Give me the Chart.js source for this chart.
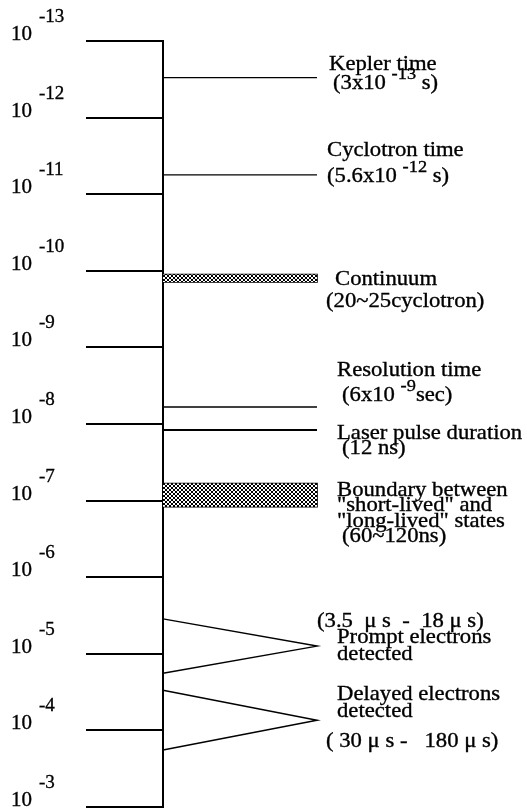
<!DOCTYPE html>
<html>
<head>
<meta charset="utf-8">
<script src="https://cdn.jsdelivr.net/npm/chart.js@4/dist/chart.umd.min.js"></script>
<style>
  html, body { margin: 0; padding: 0; background: #fff; }
  canvas { display: block; }
</style>
</head>
<body>
<canvas id="timescale" width="527" height="810"></canvas>
<script>
// Decade ticks of the time axis (seconds) and the exponents printed beside them
const tickValues = [1e-13, 1e-12, 1e-11, 1e-10, 1e-9, 1e-8, 1e-7, 1e-6, 1e-5, 1e-4, 1e-3];
const tickExponents = ['-13', '-12', '-11', '-10', '-9', '-8', '-7', '-6', '-5', '-4', '-3'];

// Characteristic single times (s)
const eventNames = ['Kepler time', 'Cyclotron time', 'Resolution time', 'Laser pulse duration'];
const eventTimes = [3e-13, 5.6e-12, 6e-9, 12e-9];

// Continuum onset, in cyclotron periods
const continuumCycles = [20, 25];
// Boundary between short-lived and long-lived states (s)
const boundaryTimes = [60e-9, 120e-9];

// Electron detection windows (s)
const promptWindow = [3.5e-6, 18e-6];
const delayedWindow = [30e-6, 180e-6];

// ---- styling ----
const INK = '#000';
const eventLineWidths = [1.3, 1.3, 1.3, 2];
const SERIF = '"Liberation Serif", "Times New Roman", serif';

function crossHatch() {
  const size = 4;
  const c = document.createElement('canvas');
  c.width = size; c.height = size;
  const g = c.getContext('2d');
  g.fillStyle = '#fff';
  g.fillRect(0, 0, size, size);
  g.strokeStyle = INK;
  g.lineWidth = 1;
  g.beginPath();
  g.moveTo(-1, -1); g.lineTo(size + 1, size + 1);
  g.moveTo(size + 1, -1); g.lineTo(-1, size + 1);
  g.stroke();
  return g.createPattern(c, 'repeat');
}
const hatch = crossHatch();

const datasets = [];

eventTimes.forEach((t, i) => {
  datasets.push({
    label: eventNames[i],
    data: [{ x: 0, y: t }, { x: 1, y: t }],
    borderColor: INK,
    borderWidth: eventLineWidths[i],
    pointRadius: 0,
    fill: false,
    clip: false
  });
});

function addBand(name, range) {
  const [a, b] = range;
  datasets.push({
    label: name + ' start',
    data: [{ x: 0, y: a }, { x: 1, y: a }],
    borderColor: 'rgba(0,0,0,0)',
    pointRadius: 0,
    fill: false
  });
  datasets.push({
    label: name,
    data: [{ x: 0, y: b }, { x: 1, y: b }],
    borderColor: 'rgba(0,0,0,0)',
    backgroundColor: hatch,
    pointRadius: 0,
    fill: '-1'
  });
  datasets.push({
    label: name + ' outline',
    data: [{ x: 0, y: a }, { x: 1, y: a }, { x: 1, y: b }, { x: 0, y: b }],
    borderColor: INK,
    borderWidth: 1.6,
    pointRadius: 0,
    fill: false,
    clip: false
  });
}

function addWedge(name, range) {
  const [a, b] = range;
  const apex = Math.sqrt(a * b);
  datasets.push({
    label: name,
    data: [{ x: 0, y: a }, { x: 1, y: apex }, { x: 0, y: b }],
    borderColor: INK,
    borderWidth: 1.5,
    pointRadius: 0,
    fill: false,
    clip: false
  });
}

const cyclotronPeriod = eventTimes[1];
addBand('Continuum', continuumCycles.map(n => n * cyclotronPeriod));
addBand('Short/long-lived boundary', boundaryTimes);
addWedge('Prompt electrons', promptWindow);
addWedge('Delayed electrons', delayedWindow);

// ---- annotation text: [x, baseline, segments]; a segment starting with '^' is raised ----
const notes = [
  [329, 70, ['Kepler time']],
  [333, 89, ['(3x10 ', '^-13', ' s)']],
  [327, 156, ['Cyclotron time']],
  [327, 182, ['(5.6x10 ', '^-12', ' s)']],
  [335, 285, ['Continuum']],
  [326, 307, ['(20~25cyclotron)']],
  [337, 376, ['Resolution time']],
  [342, 401, ['(6x10 ', '^-9', 'sec)']],
  [337, 439, ['Laser pulse duration']],
  [342, 454, ['(12 ns)']],
  [337, 496, ['Boundary between']],
  [337, 511, ['"short-lived" and']],
  [337, 527, ['"long-lived" states']],
  [342, 542, ['(60~120ns)']],
  [317, 627, ['(3.5  \u03bc s  -  18 \u03bc s)']],
  [337, 643, ['Prompt electrons']],
  [337, 660, ['detected']],
  [337, 700, ['Delayed electrons']],
  [337, 717, ['detected']],
  [326, 747, ['( 30 \u03bc s -   180 \u03bc s)']]
];

const TEXT_STRETCH = 1.08;

// Fill plus a hairline stroke gives the slightly heavy print look
function inkText(ctx, txt, x, y) {
  ctx.fillText(txt, x, y);
  ctx.strokeText(txt, x, y);
}

const annotate = {
  id: 'annotate',
  afterDraw(chart) {
    const ctx = chart.ctx;
    const y = chart.scales.y;
    ctx.save();
    ctx.fillStyle = INK;
    ctx.strokeStyle = INK;
    ctx.lineWidth = 0.35;
    ctx.textBaseline = 'alphabetic';
    ctx.textAlign = 'left';

    // decade labels: "10" with a raised exponent
    y.ticks.forEach((tick, i) => {
      const py = y.getPixelForValue(tick.value);
      ctx.font = '21px ' + SERIF;
      inkText(ctx, '10', 11, py - 1);
      ctx.font = '19px ' + SERIF;
      inkText(ctx, tickExponents[i], 39, py - 19);
    });

    // descriptions to the right of the marks
    notes.forEach(([x, base, segs]) => {
      ctx.save();
      ctx.translate(x, base);
      ctx.scale(TEXT_STRETCH, 1);
      let cx = 0;
      segs.forEach(s => {
        const sup = s.startsWith('^');
        const txt = sup ? s.slice(1) : s;
        ctx.font = (sup ? '17px ' : '21px ') + SERIF;
        inkText(ctx, txt, cx, sup ? -10 : 0);
        cx += ctx.measureText(txt).width;
      });
      ctx.restore();
    });
    ctx.restore();
  }
};

new Chart(document.getElementById('timescale'), {
  type: 'line',
  data: { datasets },
  options: {
    responsive: false,
    animation: false,
    devicePixelRatio: 1,
    layout: { padding: { top: 41, bottom: 3, left: 0, right: 210 } },
    plugins: {
      legend: { display: false },
      tooltip: { enabled: false }
    },
    scales: {
      x: { type: 'linear', min: 0, max: 1, display: false },
      y: {
        type: 'logarithmic',
        reverse: true,
        min: tickValues[0],
        max: tickValues[tickValues.length - 1],
        position: 'left',
        afterBuildTicks(scale) {
          scale.ticks = tickValues.map(v => ({ value: v }));
        },
        afterFit(scale) {
          scale.width = 163;
        },
        ticks: { display: false },
        grid: {
          drawOnChartArea: false,
          drawTicks: true,
          tickLength: 77,
          lineWidth: 2,
          color: INK
        },
        border: { display: true, color: INK, width: 2 }
      }
    }
  },
  plugins: [annotate]
});
</script>
</body>
</html>
